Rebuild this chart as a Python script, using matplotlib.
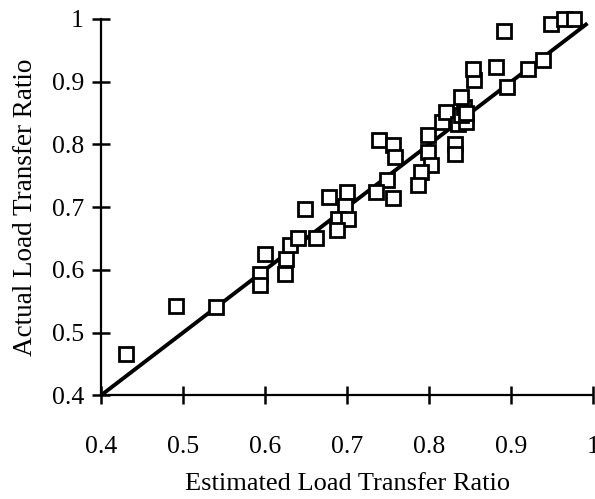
import matplotlib.pyplot as plt

# estimated vs actual load transfer ratio
estimated = [0.430, 0.491, 0.540, 0.594, 0.594, 0.600, 0.624, 0.626, 0.630, 0.640,
             0.662, 0.649, 0.678, 0.700, 0.697, 0.689, 0.701, 0.687, 0.739, 0.756,
             0.758, 0.748, 0.735, 0.756, 0.798, 0.798, 0.802, 0.790, 0.786, 0.816,
             0.821, 0.831, 0.831, 0.835, 0.845, 0.839, 0.842, 0.839, 0.845, 0.855,
             0.853, 0.881, 0.891, 0.895, 0.920, 0.939, 0.948, 0.964, 0.976]
actual = [0.465, 0.542, 0.541, 0.594, 0.575, 0.625, 0.594, 0.618, 0.639, 0.650,
          0.651, 0.697, 0.716, 0.724, 0.701, 0.681, 0.681, 0.663, 0.807, 0.799,
          0.780, 0.743, 0.724, 0.714, 0.815, 0.788, 0.767, 0.756, 0.735, 0.836,
          0.852, 0.801, 0.785, 0.833, 0.836, 0.847, 0.860, 0.876, 0.850, 0.902,
          0.921, 0.924, 0.981, 0.891, 0.921, 0.935, 0.992, 1.000, 1.000]

line_x = [0.4, 0.993]
ticks = [0.4, 0.5, 0.6, 0.7, 0.8, 0.9, 1.0]
tick_labels = ["0.4", "0.5", "0.6", "0.7", "0.8", "0.9", "1"]


def main() -> None:
    plt.rcParams["font.family"] = ["Liberation Serif", "DejaVu Serif"]

    fig = plt.figure(figsize=(5.95, 4.99), dpi=100)
    ax = fig.add_axes([0.170, 0.208, 0.827, 0.754])

    # 1:1 line
    ax.plot(line_x, line_x, color="black", lw=2.8, solid_capstyle="butt")

    ax.plot(estimated, actual, ls="none", marker="s", ms=10.5, mfc="white",
            mec="black", mew=2.0, clip_on=False, zorder=3)

    ax.set_xlim(0.4, 1.0)
    ax.set_ylim(0.4, 1.0)
    ax.set_xticks(ticks)
    ax.set_xticklabels(tick_labels)
    ax.set_yticks(ticks)
    ax.set_yticklabels(tick_labels)

    for side in ["top", "right"]:
        ax.spines[side].set_visible(False)
    for side in ["left", "bottom"]:
        ax.spines[side].set_linewidth(1.6)

    ax.tick_params(direction="inout", length=13, width=1.8, labelsize=18.5)
    ax.tick_params(axis="x", pad=23)
    ax.tick_params(axis="y", pad=6)

    ax.set_xlabel("Estimated Load Transfer Ratio", fontsize=19, labelpad=11)
    ax.set_ylabel("Actual Load Transfer Ratio", fontsize=19.5, labelpad=10)

    fig.savefig("out.png", dpi=100)


if __name__ == "__main__":
    main()
